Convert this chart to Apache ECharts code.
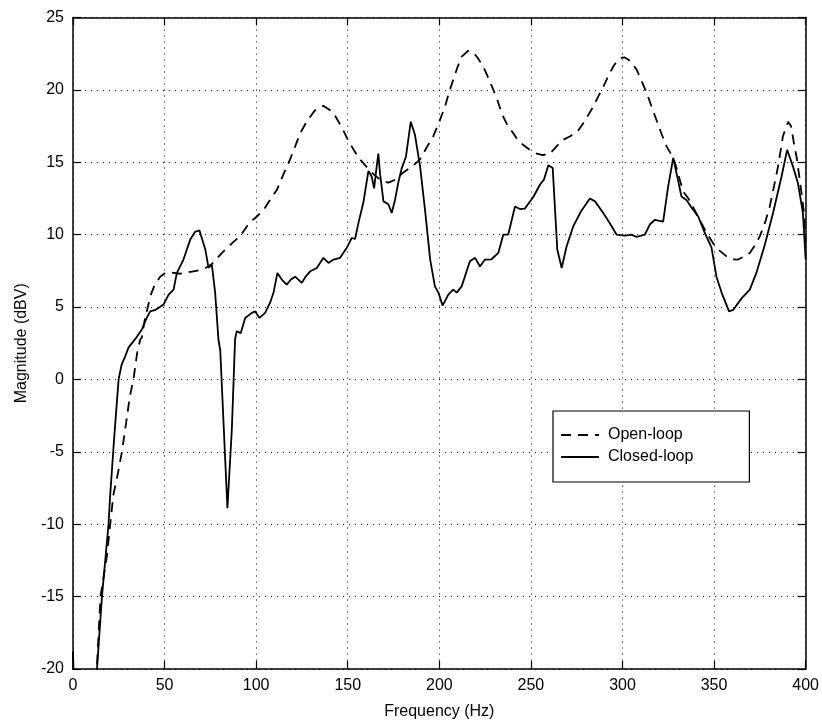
<!DOCTYPE html>
<html>
<head>
<meta charset="utf-8">
<script src="https://cdn.jsdelivr.net/npm/echarts@6/dist/echarts.min.js"></script>
<style>
html,body{margin:0;padding:0;background:#fff;}
#chart{width:822px;height:725px;}
</style>
</head>
<body>
<div id="chart"></div>
<script>
// Open-loop (dashed) response
const freqOpen = [0, 1, 12, 13, 15, 18.5, 22, 24.5, 26.7, 29, 31, 33, 35, 36.7, 37.6, 39, 42.2, 44.5, 47.6, 50.4, 53, 58.5, 65.8, 71.3, 76, 81.3, 87.6, 91.3, 96.7, 99.5, 104, 107.6, 111.3, 115, 118.5, 121.3, 124, 128, 132.2, 136.7, 140.4, 142.2, 145, 147.6, 150.3, 153.1, 156, 159.5, 163, 166.7, 169.5, 172.2, 176, 180.4, 185, 189.5, 193, 196.7, 200, 203.1, 205.5, 207.6, 210, 212.2, 215.8, 218.5, 221, 224, 226.5, 229.5, 232, 234, 237, 240.4, 243, 245.8, 249, 253.1, 256.5, 260.4, 264, 267.6, 271.5, 275.8, 278.6, 281.5, 284, 287, 289.5, 292, 294.9, 297, 299, 301, 303.1, 305.5, 307.7, 310.5, 313.2, 316, 318.6, 321.5, 324.1, 327.7, 330, 333, 336, 339, 341, 343.1, 346, 349.5, 353, 356.8, 360, 363.1, 366.5, 369.5, 372.5, 375, 378, 380.4, 382.5, 384.9, 387.6, 390.4, 392, 393.5, 395, 397, 399, 400];
const magOpen = [-18.8, -25, -25, -20, -15, -12.2, -8, -6.5, -5, -3, -1.2, 0, 1.8, 2.76, 2.9, 4, 5.75, 6.5, 7.1, 7.36, 7.4, 7.3, 7.47, 7.6, 8.0, 8.74, 9.5, 9.9, 10.9, 11.15, 11.7, 12.4, 13.1, 14.2, 15.2, 16.1, 17.0, 17.9, 18.6, 18.9, 18.6, 18.4, 17.8, 17.2, 16.5, 15.9, 15.3, 14.8, 14.3, 13.9, 13.7, 13.6, 13.8, 14.3, 14.7, 15.2, 16.0, 16.8, 17.8, 18.85, 19.9, 20.7, 21.6, 22.3, 22.7, 22.6, 22.2, 21.6, 20.9, 20.0, 19.2, 18.4, 17.6, 17.0, 16.5, 16.2, 15.9, 15.6, 15.5, 15.6, 16.1, 16.55, 16.8, 17.2, 17.7, 18.3, 18.85, 19.6, 20.2, 20.9, 21.6, 22.0, 22.2, 22.25, 22.1, 21.8, 21.4, 20.6, 19.8, 18.8, 17.9, 16.9, 16.1, 15.3, 14.4, 13.0, 12.5, 11.8, 11.3, 10.8, 10.1, 9.4, 8.9, 8.5, 8.3, 8.28, 8.5, 8.74, 9.3, 9.9, 10.9, 11.95, 13.2, 14.7, 16.8, 17.8, 17.5, 16.4, 15.4, 13.6, 11.6, 9.5];

// Closed-loop (solid) response
const freqClosed = [0, 1, 12, 13.1, 15.8, 19.4, 20.3, 22.5, 24.9, 26.5, 28.5, 30.3, 34, 37.6, 40.4, 42.2, 45, 49.4, 52.2, 54.9, 56.7, 60.3, 64, 66.7, 69, 72.2, 74, 75.8, 77.6, 79.4, 80.4, 84.3, 86.7, 88.5, 89.4, 91.6, 94, 97.6, 99.5, 101.8, 104.9, 107.6, 109.5, 111.6, 114, 116.7, 119, 121.3, 124.9, 127, 129.5, 133.1, 136.7, 139.5, 142.2, 145.8, 149.5, 152.2, 154, 156, 158.5, 161.3, 163.1, 164.4, 165.3, 166.7, 167.6, 169.5, 172.2, 174, 175.8, 177.6, 179.5, 181.8, 184.4, 186.7, 189.5, 192.2, 195, 197.6, 199.5, 201.8, 204.9, 207.6, 209.5, 212.2, 216.7, 219.5, 222.2, 224.9, 228.5, 232.2, 234.9, 237.6, 241.3, 244, 246.7, 251.3, 254.9, 257.1, 259.5, 261.9, 264.4, 266.8, 269.5, 273.1, 277.3, 282.2, 285, 289.5, 293, 296.8, 301.3, 305, 307.7, 312.2, 314.9, 317.7, 322.2, 324.9, 327.7, 329.5, 332.2, 334.9, 338.6, 341.3, 345, 348.6, 351.3, 354.1, 358.2, 360.4, 365, 369.5, 373.1, 377.7, 382.2, 386.8, 389.9, 393.1, 395.8, 398.5, 400];
const magClosed = [-18.8, -25, -25, -20, -15, -10, -8, -4, 0, 1, 1.6, 2.2, 2.8, 3.45, 4.3, 4.7, 4.8, 5.17, 5.86, 6.2, 7.36, 8.28, 9.66, 10.2, 10.3, 9.0, 7.7, 7.93, 6.0, 2.76, 2.0, -8.9, -3.5, 2.8, 3.33, 3.2, 4.25, 4.6, 4.7, 4.25, 4.6, 5.3, 6.0, 7.36, 6.9, 6.55, 6.9, 7.1, 6.67, 7.1, 7.47, 7.7, 8.4, 8.05, 8.28, 8.4, 9.1, 9.77, 9.7, 10.9, 12.2, 14.4, 14.0, 13.2, 14.2, 15.6, 14.25, 12.3, 12.1, 11.5, 12.4, 13.6, 14.6, 15.4, 17.8, 16.9, 14.7, 11.7, 8.28, 6.43, 6.0, 5.1, 5.86, 6.2, 6.0, 6.43, 8.16, 8.4, 7.8, 8.28, 8.3, 8.74, 10.0, 10.0, 11.95, 11.77, 11.8, 12.6, 13.45, 13.8, 14.8, 14.6, 8.97, 7.7, 9.2, 10.57, 11.6, 12.5, 12.3, 11.5, 10.8, 10.0, 9.93, 10.0, 9.84, 10.0, 10.7, 11.03, 10.9, 13.3, 15.3, 14.25, 12.64, 12.4, 11.7, 11.27, 10.1, 9.1, 7.1, 6.0, 4.7, 4.8, 5.6, 6.2, 7.36, 9.3, 11.5, 14.0, 15.86, 14.7, 13.55, 11.5, 8.3];

const seriesNames = ['Open-loop', 'Closed-loop'];
const xTickValues = [0, 50, 100, 150, 200, 250, 300, 350, 400];
const yTickValues = [-20, -15, -10, -5, 0, 5, 10, 15, 20, 25];

const pairs = (xs, ys) => xs.map((x, i) => [x, ys[i]]);

const FONT = '"Liberation Sans", Arial, Helvetica, sans-serif';
const labelStyle = { color: '#000', fontSize: 16, fontFamily: FONT };
const gridLine = { show: true, lineStyle: { color: '#000', width: 1, type: [1, 5] } };
const axisLine = { show: true, onZero: false, lineStyle: { color: '#000', width: 1.5 } };
const tickIn = { show: true, inside: true, length: 8, lineStyle: { color: '#000', width: 1.2 } };

const xMin = xTickValues[0], xMax = xTickValues[xTickValues.length - 1];
const yMin = yTickValues[0], yMax = yTickValues[yTickValues.length - 1];
const xStep = xTickValues[1] - xTickValues[0];
const yStep = yTickValues[1] - yTickValues[0];

const chart = echarts.init(document.getElementById('chart'), null, { renderer: 'canvas' });
chart.setOption({
  backgroundColor: '#fff',
  animation: false,
  grid: { left: 73, right: 16, top: 17.5, bottom: 55, containLabel: false },
  legend: {
    orient: 'vertical',
    left: 553,
    top: 411,
    data: seriesNames,
    itemWidth: 38,
    itemHeight: 14,
    itemGap: 6,
    padding: [16, 56, 17, 7],
    borderColor: '#000',
    borderWidth: 1.2,
    backgroundColor: '#fff',
    itemStyle: { opacity: 0 },
    textStyle: { color: '#000', fontSize: 16, fontFamily: FONT, padding: [0, 0, 0, 4] }
  },
  xAxis: [
    {
      type: 'value', min: xMin, max: xMax, interval: xStep,
      name: 'Frequency (Hz)', nameLocation: 'middle', nameGap: 35,
      nameTextStyle: labelStyle,
      axisLine: axisLine, axisTick: tickIn,
      axisLabel: Object.assign({ margin: 9 }, labelStyle),
      splitLine: gridLine
    },
    {
      type: 'value', min: xMin, max: xMax, interval: xStep, position: 'top',
      axisLine: axisLine, axisTick: tickIn,
      axisLabel: { show: false }, splitLine: { show: false }
    }
  ],
  yAxis: [
    {
      type: 'value', min: yMin, max: yMax, interval: yStep,
      name: 'Magnitude (dBV)', nameLocation: 'middle', nameGap: 41,
      nameTextStyle: labelStyle,
      axisLine: axisLine, axisTick: tickIn,
      axisLabel: Object.assign({ margin: 9 }, labelStyle),
      splitLine: gridLine
    },
    {
      type: 'value', min: yMin, max: yMax, interval: yStep, position: 'right',
      axisLine: axisLine, axisTick: tickIn,
      axisLabel: { show: false }, splitLine: { show: false }
    }
  ],
  series: [
    {
      name: seriesNames[0], type: 'line', xAxisIndex: 0, yAxisIndex: 0,
      data: pairs(freqOpen, magOpen), symbol: 'none', showSymbol: false, clip: true,
      lineStyle: { color: '#000', width: 1.8, type: [10, 7] },
      itemStyle: { color: '#000' }
    },
    {
      name: seriesNames[1], type: 'line', xAxisIndex: 0, yAxisIndex: 0,
      data: pairs(freqClosed, magClosed), symbol: 'none', showSymbol: false, clip: true,
      lineStyle: { color: '#000', width: 1.8, type: 'solid' },
      itemStyle: { color: '#000' }
    }
  ]
});
</script>
</body>
</html>
